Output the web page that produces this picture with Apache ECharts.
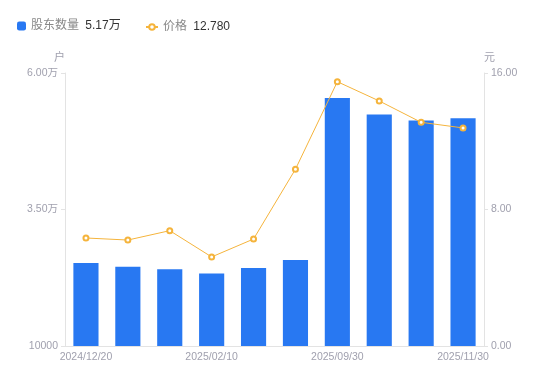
<!DOCTYPE html>
<html><head><meta charset="utf-8">
<script src="https://cdn.jsdelivr.net/npm/echarts@6/dist/echarts.min.js"></script>
<style>html,body{margin:0;padding:0;background:#fff}#c{width:550px;height:381px}</style>
</head><body><div id="c"></div>
<script>
const categories = ['2024/12/20','2024/12/31','2025/01/20','2025/02/10','2025/03/10','2025/06/30','2025/09/30','2025/10/20','2025/10/31','2025/11/30'];
const holders = [25200, 24500, 24050, 23300, 24300, 25750, 55400, 52400, 51300, 51700];
const prices = [6.33, 6.21, 6.76, 5.22, 6.27, 10.36, 15.49, 14.36, 13.11, 12.78];
const leftTicks = [10000, 35000, 60000];
const rightTicks = [0, 8, 16];
const legendValues = {'股东数量': '5.17万', '价格': '12.780'};

const font = '"Liberation Sans", Arial, "Noto Sans CJK SC", sans-serif';
const legendText = {fontFamily: font, fontSize: 12, color: '#888',
  rich: {v: {fontFamily: font, fontSize: 12, color: '#333', padding: [0,0,0,3]}}};
const chart = echarts.init(document.getElementById('c'), null, {renderer: 'canvas'});
chart.setOption({
  animation: false,
  textStyle: {fontFamily: font},
  legend: [{
    left: 12, top: 15, itemWidth: 9, itemHeight: 9,
    textStyle: legendText,
    formatter: n => n + ' {v|' + legendValues[n] + '}',
    data: [{name: '股东数量', icon: 'roundRect'}]
  }, {
    left: 140, top: 16, itemWidth: 12, itemHeight: 7,
    textStyle: legendText,
    formatter: n => n + ' {v|' + legendValues[n] + '}',
    data: [{name: '价格'}]
  }],
  grid: {left: 65, right: 66, top: 73, bottom: 35},
  xAxis: {
    type: 'category', data: categories,
    axisLine: {lineStyle: {color: '#e3e3e3'}},
    axisTick: {show: false},
    axisLabel: {color: '#a0a0ae', fontSize: 10.5, interval: 2, margin: 6, fontFamily: font}
  },
  yAxis: [{
    type: 'value', min: leftTicks[0], max: leftTicks[2], interval: leftTicks[1]-leftTicks[0],
    name: '户', nameTextStyle: {color: '#a0a0ae', fontSize: 11, align: 'right'}, nameGap: 10,
    axisLine: {show: true, lineStyle: {color: '#e3e3e3'}},
    axisTick: {show: true, length: 4, lineStyle: {color: '#e3e3e3'}},
    splitLine: {show: false},
    axisLabel: {color: '#a0a0ae', fontSize: 10.5, margin: 7, fontFamily: font,
      formatter: v => v === leftTicks[0] ? String(v) : (v/10000).toFixed(2) + '万'}
  }, {
    type: 'value', min: rightTicks[0], max: rightTicks[2], interval: rightTicks[1]-rightTicks[0],
    name: '元', nameTextStyle: {color: '#a0a0ae', fontSize: 11, align: 'left'}, nameGap: 10,
    axisLine: {show: true, lineStyle: {color: '#e3e3e3'}},
    axisTick: {show: true, length: 4, lineStyle: {color: '#e3e3e3'}},
    splitLine: {show: false},
    axisLabel: {color: '#a0a0ae', fontSize: 10.5, margin: 7, fontFamily: font, formatter: v => v.toFixed(2)}
  }],
  series: [{
    name: '股东数量', type: 'bar', data: holders, barWidth: '60%',
    itemStyle: {color: '#2878f2'}
  }, {
    name: '价格', type: 'line', yAxisIndex: 1, data: prices,
    symbol: 'emptyCircle', symbolSize: 5,
    lineStyle: {color: '#f5b43c', width: 1},
    itemStyle: {color: '#f5b43c', borderWidth: 2}
  }]
});
</script></body></html>
